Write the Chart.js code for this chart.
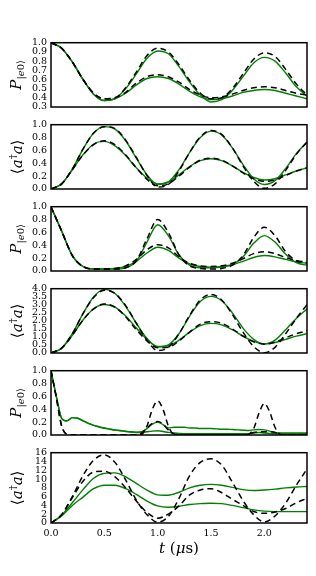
<!DOCTYPE html>
<html>
<head>
<meta charset="utf-8">
<script src="https://cdn.jsdelivr.net/npm/chart.js@4.4.0/dist/chart.umd.min.js"></script>
<style>
  body { margin: 0; background: #fff; width: 316px; height: 576px; position: relative; overflow: hidden; }
  canvas { position: absolute; left: 0; }
</style>
</head>
<body>
<script>
// time axis (µs)
const t = [0, 0.1, 0.2, 0.3, 0.4, 0.5, 0.6, 0.7, 0.8, 0.9, 1.0, 1.1, 1.2, 1.3, 1.4, 1.5, 1.6, 1.7, 1.8, 1.9, 2.0, 2.1, 2.2, 2.3, 2.4];
const t5 = [0, 0.05, 0.1, 0.15, 0.2, 0.25, 0.3, 0.35, 0.4, 0.45, 0.5, 0.55, 0.6, 0.65, 0.7, 0.75, 0.8, 0.85, 0.9, 0.95,
  1.0, 1.05, 1.1, 1.15, 1.2, 1.25, 1.3, 1.35, 1.4, 1.45, 1.5, 1.55, 1.6, 1.65, 1.7, 1.75, 1.8, 1.85, 1.9, 1.95,
  2.0, 2.05, 2.1, 2.15, 2.2, 2.25, 2.3, 2.35, 2.4];

// panel 1: P|e0>
const k1a = [1.00, 0.94, 0.79, 0.60, 0.45, 0.39, 0.40, 0.51, 0.68, 0.86, 0.94, 0.90, 0.76, 0.59, 0.45, 0.39, 0.40, 0.50, 0.66, 0.82, 0.89, 0.85, 0.71, 0.55, 0.43];
const k1b = [1.00, 0.94, 0.79, 0.60, 0.45, 0.39, 0.40, 0.46, 0.56, 0.63, 0.65, 0.63, 0.57, 0.49, 0.43, 0.40, 0.41, 0.44, 0.48, 0.51, 0.52, 0.51, 0.48, 0.45, 0.43];
const g1a = [1.00, 0.94, 0.79, 0.60, 0.44, 0.37, 0.39, 0.50, 0.66, 0.83, 0.91, 0.88, 0.74, 0.57, 0.43, 0.355, 0.38, 0.48, 0.63, 0.78, 0.84, 0.80, 0.67, 0.52, 0.42];
const g1b = [1.00, 0.94, 0.79, 0.60, 0.44, 0.37, 0.39, 0.45, 0.54, 0.61, 0.63, 0.61, 0.55, 0.47, 0.41, 0.38, 0.39, 0.42, 0.46, 0.48, 0.49, 0.48, 0.45, 0.42, 0.39];

// panel 2: <a+a>
const k2a = [0, 0.08, 0.31, 0.62, 0.87, 0.97, 0.94, 0.76, 0.49, 0.21, 0.03, 0.07, 0.28, 0.57, 0.81, 0.91, 0.85, 0.64, 0.36, 0.12, 0.01, 0.08, 0.29, 0.54, 0.73];
const k2b = [0, 0.08, 0.30, 0.53, 0.69, 0.75, 0.69, 0.53, 0.33, 0.15, 0.05, 0.08, 0.20, 0.34, 0.45, 0.48, 0.45, 0.36, 0.25, 0.16, 0.12, 0.14, 0.21, 0.28, 0.33];
const g2a = [0, 0.08, 0.31, 0.62, 0.87, 0.97, 0.93, 0.75, 0.48, 0.22, 0.07, 0.11, 0.30, 0.57, 0.80, 0.90, 0.84, 0.64, 0.38, 0.16, 0.07, 0.13, 0.32, 0.55, 0.73];
const g2b = [0, 0.08, 0.30, 0.53, 0.70, 0.74, 0.67, 0.52, 0.33, 0.17, 0.08, 0.11, 0.22, 0.35, 0.44, 0.47, 0.44, 0.36, 0.26, 0.18, 0.14, 0.16, 0.22, 0.28, 0.33];

// panel 3: P|e0>
const k3a = [1.0, 0.62, 0.24, 0.07, 0.03, 0.03, 0.03, 0.05, 0.16, 0.50, 0.80, 0.60, 0.25, 0.08, 0.04, 0.03, 0.04, 0.09, 0.24, 0.52, 0.68, 0.55, 0.30, 0.16, 0.13];
const k3b = [1.0, 0.62, 0.24, 0.07, 0.03, 0.03, 0.04, 0.08, 0.18, 0.33, 0.41, 0.36, 0.22, 0.12, 0.08, 0.07, 0.08, 0.12, 0.19, 0.27, 0.30, 0.27, 0.21, 0.16, 0.14];
const g3a = [1.0, 0.62, 0.24, 0.07, 0.03, 0.03, 0.03, 0.05, 0.15, 0.45, 0.72, 0.55, 0.25, 0.09, 0.05, 0.05, 0.06, 0.10, 0.22, 0.43, 0.55, 0.45, 0.26, 0.13, 0.09];
const g3b = [1.0, 0.62, 0.24, 0.07, 0.03, 0.03, 0.04, 0.07, 0.15, 0.28, 0.37, 0.32, 0.20, 0.11, 0.07, 0.06, 0.07, 0.10, 0.15, 0.21, 0.24, 0.22, 0.18, 0.14, 0.12];

// panel 4: <a+a>
const k4a = [0, 0.30, 1.20, 2.45, 3.45, 3.91, 3.70, 2.95, 1.85, 0.80, 0.15, 0.35, 1.20, 2.35, 3.30, 3.64, 3.30, 2.40, 1.30, 0.40, 0.02, 0.35, 1.20, 2.15, 3.00];
const k4b = [0, 0.30, 1.10, 2.05, 2.75, 3.05, 2.85, 2.25, 1.45, 0.75, 0.32, 0.35, 0.75, 1.30, 1.80, 1.95, 1.85, 1.50, 1.05, 0.70, 0.55, 0.68, 0.95, 1.20, 1.38];
const g4a = [0, 0.30, 1.20, 2.45, 3.50, 3.96, 3.70, 2.90, 1.85, 0.90, 0.38, 0.50, 1.20, 2.30, 3.20, 3.52, 3.25, 2.50, 1.55, 0.85, 0.56, 0.80, 1.45, 2.15, 2.74];
const g4b = [0, 0.30, 1.10, 2.05, 2.75, 3.02, 2.85, 2.30, 1.55, 0.85, 0.40, 0.45, 0.80, 1.30, 1.70, 1.84, 1.75, 1.45, 1.05, 0.72, 0.57, 0.65, 0.85, 1.05, 1.20];

// panel 5: P|e0> (finer time grid)
const k5a = [1.0, 0.58, 0.14, 0.01, 0, 0, 0, 0, 0, 0, 0, 0, 0, 0, 0, 0, 0, 0.01, 0.14, 0.40,
  0.53, 0.40, 0.14, 0.01, 0, 0, 0, 0, 0, 0, 0, 0, 0, 0, 0, 0, 0, 0.01, 0.10, 0.34,
  0.49, 0.36, 0.12, 0.01, 0, 0, 0, 0, 0];
const k5b = [1.0, 0.58, 0.14, 0.01, 0, 0, 0, 0, 0, 0, 0, 0, 0, 0, 0, 0, 0, 0.03, 0.11, 0.18,
  0.21, 0.17, 0.08, 0.02, 0, 0, 0, 0, 0, 0, 0, 0, 0, 0, 0, 0, 0, 0.01, 0.04, 0.05,
  0.05, 0.05, 0.04, 0.01, 0, 0, 0, 0, 0];
const g5a = [1.0, 0.60, 0.26, 0.22, 0.27, 0.26, 0.22, 0.18, 0.15, 0.13, 0.11, 0.095, 0.08, 0.07, 0.06, 0.05, 0.045, 0.05, 0.10, 0.17,
  0.20, 0.16, 0.11, 0.12, 0.12, 0.12, 0.11, 0.11, 0.10, 0.10, 0.10, 0.095, 0.09, 0.09, 0.085, 0.08, 0.075, 0.07, 0.08, 0.085,
  0.08, 0.06, 0.04, 0.03, 0.03, 0.03, 0.03, 0.03, 0.03];
const g5b = [1.0, 0.60, 0.26, 0.22, 0.27, 0.26, 0.22, 0.18, 0.15, 0.125, 0.105, 0.09, 0.075, 0.065, 0.055, 0.045, 0.04, 0.04, 0.05, 0.06,
  0.065, 0.055, 0.04, 0.03, 0.025, 0.02, 0.02, 0.02, 0.02, 0.02, 0.02, 0.02, 0.02, 0.02, 0.02, 0.02, 0.02, 0.02, 0.03, 0.04,
  0.03, 0.025, 0.02, 0.02, 0.02, 0.02, 0.02, 0.02, 0.02];

// panel 6: <a+a>
const k6a = [0, 1.9, 6.0, 10.8, 14.3, 15.5, 13.8, 9.8, 5.2, 1.9, 0.2, 1.5, 5.6, 10.8, 13.8, 14.6, 13.2, 9.3, 5.1, 1.9, 0.2, 1.6, 4.5, 8.6, 12.3];
const k6b = [0, 1.9, 5.8, 9.5, 11.6, 11.8, 10.5, 8.0, 5.0, 2.4, 1.1, 2.0, 3.9, 6.4, 7.5, 7.8, 6.9, 5.4, 4.0, 2.6, 2.2, 2.5, 3.3, 4.6, 5.6];
const g6a = [0, 1.8, 4.6, 7.6, 10.2, 11.3, 11.4, 10.5, 9.0, 7.5, 6.4, 6.3, 7.0, 8.0, 8.6, 8.8, 8.6, 8.1, 7.6, 7.4, 7.5, 7.7, 8.0, 8.2, 8.3];
const g6b = [0, 1.6, 4.0, 5.9, 7.8, 8.6, 8.6, 7.8, 6.5, 5.0, 3.9, 3.6, 3.8, 4.2, 4.4, 4.5, 4.4, 4.0, 3.5, 3.0, 2.7, 2.6, 2.6, 2.6, 2.6];

// tick values
const xTicks = [0, 0.5, 1.0, 1.5, 2.0];
const yTicks1 = [0.3, 0.4, 0.5, 0.6, 0.7, 0.8, 0.9, 1.0];
const yTicks2 = [0, 0.2, 0.4, 0.6, 0.8, 1.0];
const yTicks3 = [0, 0.2, 0.4, 0.6, 0.8, 1.0];
const yTicks4 = [0, 0.5, 1.0, 1.5, 2.0, 2.5, 3.0, 3.5, 4.0];
const yTicks5 = [0, 0.2, 0.4, 0.6, 0.8, 1.0];
const yTicks6 = [0, 2, 4, 6, 8, 10, 12, 14, 16];

const FONT = '"DejaVu Serif", serif';
const IT = (px) => `italic ${px}px ${FONT}`;
const UP = (px) => `${px}px ${FONT}`;
const GREEN = '#008000';

const labelP = [
  { s: 'P', f: IT(15) },
  { s: '|', f: UP(10), dy: 3 },
  { s: 'e', f: IT(10), dy: 3 },
  { s: '0', f: UP(10), dy: 3 },
  { s: '\u27E9', f: UP(10), dy: 3 }
];
const labelN = [
  { s: '\u27E8', f: UP(15) },
  { s: 'a', f: IT(15) },
  { s: '\u2020', f: UP(10), dy: -6 },
  { s: 'a', f: IT(15) },
  { s: '\u27E9', f: UP(15) }
];
const labelT = [
  { s: 't', f: IT(15) },
  { s: ' (', f: UP(15) },
  { s: '\u03BC', f: IT(15) },
  { s: 's', f: UP(15) },
  { s: ')', f: UP(15) }
];

const panels = [
  { xs: t, black: [k1a, k1b], green: [g1a, g1b], min: 0.3, max: 1.0, ticks: yTicks1, dec: 1, label: labelP, lx: 20.5 },
  { xs: t, black: [k2a, k2b], green: [g2a, g2b], min: 0, max: 1.0, ticks: yTicks2, dec: 1, label: labelN, lx: 21.5 },
  { xs: t, black: [k3a, k3b], green: [g3a, g3b], min: 0, max: 1.0, ticks: yTicks3, dec: 1, label: labelP, lx: 20.5 },
  { xs: t, black: [k4a, k4b], green: [g4a, g4b], min: 0, max: 4.0, ticks: yTicks4, dec: 1, label: labelN, lx: 21.5 },
  { xs: t5, black: [k5a, k5b], green: [g5a, g5b], min: 0, max: 1.0, ticks: yTicks5, dec: 1, label: labelP, lx: 20.5 },
  { xs: t, black: [k6a, k6b], green: [g6a, g6b], min: 0, max: 16, ticks: yTicks6, dec: 0, label: labelN, lx: 21.5 }
];

function drawRich(ctx, segs, x, y, vertical) {
  ctx.save();
  ctx.translate(x, y);
  if (vertical) ctx.rotate(-Math.PI / 2);
  ctx.fillStyle = '#000';
  ctx.textAlign = 'left';
  ctx.textBaseline = 'alphabetic';
  let w = 0;
  segs.forEach(sg => { ctx.font = sg.f; sg.w = ctx.measureText(sg.s).width; w += sg.w; });
  let cx = -w / 2;
  segs.forEach(sg => { ctx.font = sg.f; ctx.fillText(sg.s, cx, sg.dy || 0); cx += sg.w; });
  ctx.restore();
}

const frame = {
  id: 'frame',
  afterDatasetsDraw(chart) {
    const { ctx, chartArea: a } = chart;
    ctx.save();
    ctx.strokeStyle = '#000';
    ctx.lineWidth = 1.5;
    ctx.strokeRect(a.left, a.top, a.right - a.left, a.bottom - a.top);
    ctx.restore();
  }
};

const plotTop = 39, plotStep = 82, plotH = 74, pad = 6;

panels.forEach((p, i) => {
  const last = i === panels.length - 1;
  const canvas = document.createElement('canvas');
  const top = plotTop + plotStep * i - pad;
  const height = last ? 576 - top : plotH + 2 * pad;
  canvas.width = 316;
  canvas.height = height;
  canvas.style.top = top + 'px';
  document.body.appendChild(canvas);

  const toPts = (ys) => p.xs.map((x, j) => ({ x: x, y: ys[j] }));
  const datasets = [];
  p.black.forEach(ys => datasets.push({
    data: toPts(ys), borderColor: '#000', borderWidth: 1.5, borderDash: [6, 4],
    pointRadius: 0, cubicInterpolationMode: 'monotone', fill: false
  }));
  p.green.forEach(ys => datasets.push({
    data: toPts(ys), borderColor: GREEN, borderWidth: 1.4,
    pointRadius: 0, cubicInterpolationMode: 'monotone', fill: false
  }));

  const tickFont = { family: FONT, size: 9.5 };

  new Chart(canvas.getContext('2d'), {
    type: 'line',
    data: { datasets },
    options: {
      responsive: false,
      animation: false,
      events: [],
      layout: { padding: { left: 0, right: 9, top: pad, bottom: last ? 0 : pad } },
      plugins: { legend: { display: false }, tooltip: { enabled: false } },
      scales: {
        x: {
          type: 'linear', min: 0, max: 2.4,
          display: last,
          grid: { display: false, drawTicks: false },
          border: { display: false },
          afterBuildTicks: (s) => { s.ticks = xTicks.map(v => ({ value: v })); },
          afterFit: (s) => { s.height = height - pad - plotH; },
          ticks: {
            font: tickFont, color: '#000', padding: 5, maxRotation: 0, autoSkip: false,
            callback: (v) => Number(v).toFixed(1)
          }
        },
        y: {
          type: 'linear', min: p.min, max: p.max,
          grid: { display: false, drawTicks: false },
          border: { display: false },
          afterBuildTicks: (s) => { s.ticks = p.ticks.map(v => ({ value: v })); },
          afterFit: (s) => { s.width = 51; },
          ticks: {
            font: tickFont, color: '#000', padding: 4, autoSkip: false,
            callback: (v) => Number(v).toFixed(p.dec)
          }
        }
      }
    },
    plugins: [frame, {
      id: 'labels',
      afterDraw(chart) {
        const a = chart.chartArea;
        drawRich(chart.ctx, p.label, p.lx, (a.top + a.bottom) / 2, true);
        if (last) drawRich(chart.ctx, labelT, (a.left + a.right) / 2, 553 - top, false);
      }
    }]
  });
});
</script>
</body>
</html>
